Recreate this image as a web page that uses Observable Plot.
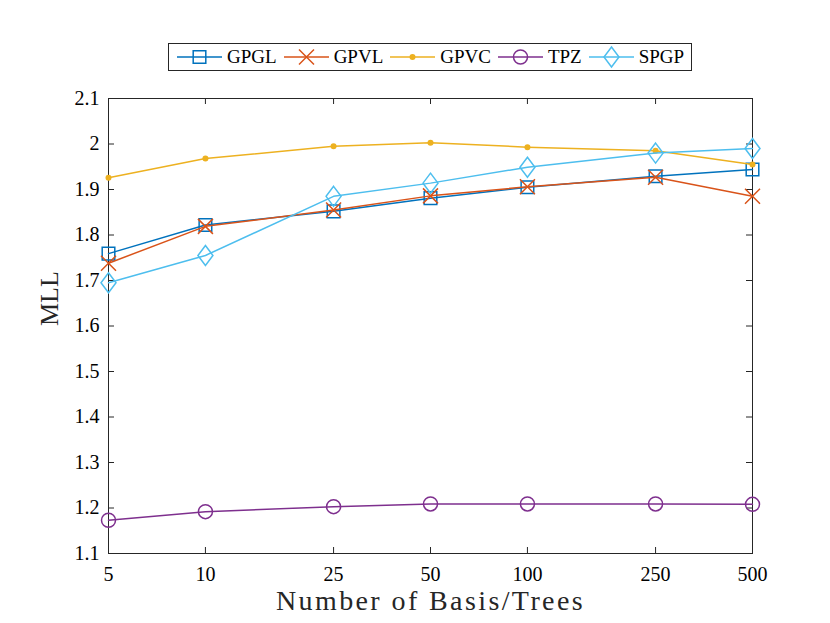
<!DOCTYPE html>
<html><head><meta charset="utf-8">
<script src="https://cdn.jsdelivr.net/npm/d3@7"></script>
<script src="https://cdn.jsdelivr.net/npm/@observablehq/plot@0.6"></script>
<style>
body{margin:0;background:#fff;}
#wrap{position:relative;width:830px;height:623px;font-family:"Liberation Serif","Times New Roman",serif;color:#262626;}
#legend{position:absolute;left:168px;top:43px;width:522px;height:26px;border:1px solid #262626;background:#fff;display:flex;align-items:center;font-size:19px;color:#000;}
.item{display:flex;align-items:center;margin-left:9px;}
.item:first-child{margin-left:8px;}
.item span{margin-left:5px;margin-right:-2px;}
</style></head><body>
<div id="wrap"><div id="legend"></div></div>
<script>
const xValues = [5, 10, 25, 50, 100, 250, 500];
const gpgl = [1.759, 1.822, 1.852, 1.881, 1.905, 1.929, 1.944];
const gpvl = [1.738, 1.819, 1.855, 1.886, 1.906, 1.927, 1.885];
const gpvc = [1.926, 1.968, 1.995, 2.003, 1.993, 1.985, 1.955];
const tpz  = [1.173, 1.192, 1.203, 1.209, 1.209, 1.209, 1.208];
const spgp = [1.695, 1.755, 1.885, 1.914, 1.949, 1.980, 1.990];
const yTicks = [1.1, 1.2, 1.3, 1.4, 1.5, 1.6, 1.7, 1.8, 1.9, 2.0, 2.1];
const seriesNames = ["GPGL", "GPVL", "GPVC", "TPZ", "SPGP"];
const seriesColors = ["#0072BD", "#D95319", "#EDB120", "#7E2F8E", "#4DBEEE"];
const seriesData = [gpgl, gpvl, gpvc, tpz, spgp];
const xTitle = "Number of Basis/Trees";
const yTitle = "MLL";

const rad = size => Math.sqrt(size / Math.PI);
const squareSym = {draw(c, size){ const h = rad(size) * 0.9; c.moveTo(-h,-h); c.lineTo(h,-h); c.lineTo(h,h); c.lineTo(-h,h); c.closePath(); }};
const timesSym = {draw(c, size){ const h = rad(size); c.moveTo(-h,-h); c.lineTo(h,h); c.moveTo(-h,h); c.lineTo(h,-h); }};
const diamondSym = {draw(c, size){ const h = rad(size), w = h * 0.75; c.moveTo(0,-h); c.lineTo(w,0); c.lineTo(0,h); c.lineTo(-w,0); c.closePath(); }};
const circleSym = {draw(c, size){ const r = rad(size); c.moveTo(r,0); c.arc(0,0,r,0,2*Math.PI); c.closePath(); }};
const markers = [
  {symbol: squareSym, r: 7, fill: "none"},
  {symbol: timesSym, r: 7.5, fill: "none"},
  {symbol: circleSym, r: 3, fill: "fill"},
  {symbol: circleSym, r: 7, fill: "none"},
  {symbol: diamondSym, r: 10, fill: "none"}
];

const rows = [];
seriesNames.forEach((name, k) => xValues.forEach((x, i) => rows.push({series: name, x, y: seriesData[k][i]})));

const axisColor = "#262626";
const marks = [
  Plot.frame({stroke: axisColor, strokeWidth: 1}),
  Plot.tickX(xValues, {x: d => d, insetTop: 449, stroke: axisColor}),
  Plot.tickX(xValues, {x: d => d, insetBottom: 449, stroke: axisColor}),
  Plot.tickY(yTicks, {y: d => d, insetRight: 638, stroke: axisColor}),
  Plot.tickY(yTicks, {y: d => d, insetLeft: 638, stroke: axisColor}),
  Plot.text(xValues, {x: d => d, frameAnchor: "bottom", lineAnchor: "top", dy: 13, text: d => String(d), fontSize: 20, fill: "#000"}),
  Plot.axisY(yTicks, {tickSize: 0, tickPadding: 9, fontSize: 20, tickFormat: d => String(+d.toFixed(1)), label: null, fill: "#000"}),
  Plot.text([xTitle], {frameAnchor: "bottom", dy: 56, text: d => d, fontSize: 28, fill: axisColor, fontFamily: "Liberation Serif"}),
  Plot.text([yTitle], {frameAnchor: "left", dx: -59, rotate: -90, text: d => d, fontSize: 26, fill: axisColor, fontFamily: "Liberation Serif"})
];
seriesNames.forEach((name, k) => {
  const data = rows.filter(d => d.series === name);
  const m = markers[k];
  marks.push(Plot.line(data, {x: "x", y: "y", stroke: seriesColors[k], strokeWidth: 1.5}));
  marks.push(Plot.dot(data, {x: "x", y: "y", symbol: m.symbol, r: m.r,
    stroke: m.fill === "fill" ? "none" : seriesColors[k],
    fill: m.fill === "fill" ? seriesColors[k] : "none", strokeWidth: 1.5}));
});

const chart = Plot.plot({
  width: 830, height: 623,
  marginLeft: 108, marginRight: 78, marginTop: 98, marginBottom: 70,
  style: {fontFamily: "Liberation Serif", background: "#fff"},
  x: {type: "log", domain: [5, 500], axis: null},
  y: {domain: [1.1, 2.1], axis: null},
  marks
});
d3.select(chart).selectAll("text").filter(function(){ return this.textContent === xTitle; })
  .attr("letter-spacing", "2.4px");
document.getElementById("wrap").prepend(chart);

const legend = document.getElementById("legend");
seriesNames.forEach((name, k) => {
  const m = markers[k];
  const item = document.createElement("div");
  item.className = "item";
  const path = d3.symbol(m.symbol, m.r * m.r * Math.PI)();
  item.innerHTML = `<svg width="45" height="22" style="overflow:visible"><line x1="0" x2="45" y1="11" y2="11" stroke="${seriesColors[k]}" stroke-width="1.5"/><path transform="translate(22.5,11)" d="${path}" stroke="${m.fill === "fill" ? "none" : seriesColors[k]}" fill="${m.fill === "fill" ? seriesColors[k] : "none"}" stroke-width="1.5"/></svg><span>${name}</span>`;
  legend.appendChild(item);
});
</script>
</body></html>
